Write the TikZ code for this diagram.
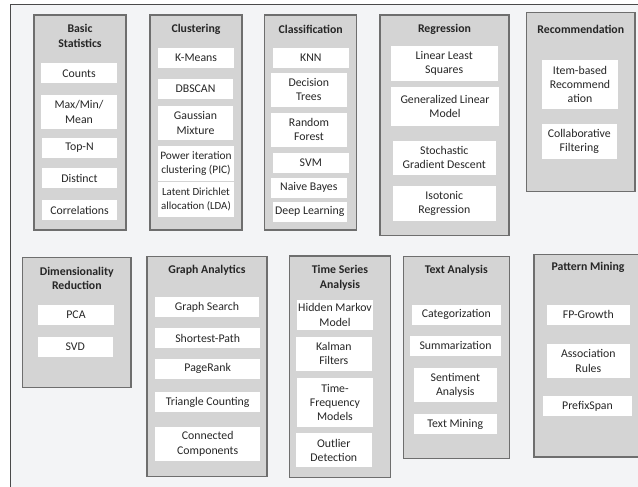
\documentclass[tikz,border=0pt]{standalone}
\usepackage{fontspec}
\setmainfont{Carlito}
\definecolor{catline}{HTML}{6E6E6E}
\definecolor{catfill}{HTML}{D4D4D4}
\definecolor{framecol}{HTML}{4A4A4A}
\definecolor{bgcol}{HTML}{F3F4F6}
\definecolor{txt}{HTML}{262626}
\begin{document}
\begin{tikzpicture}[x=1pt,y=-1pt,
  catbox/.style={draw=catline, fill=catfill, line width=1.4pt, inner sep=0pt},
  itembox/.style={fill=white, inner sep=0pt, align=center, text=txt,
    font=\fontsize{11.8}{14.2}\selectfont},
  cattitle/.style={align=center, text=txt, inner sep=0pt,
    font=\bfseries\fontsize{11.8}{14.6}\selectfont},
  frame/.style={draw=framecol, fill=bgcol, line width=1.2pt}]
\useasboundingbox (0,0) rectangle (638,487);
\clip (0,0) rectangle (638,487);
\fill[white] (0,0) rectangle (638,487);
\draw[frame] (10.5,4.5) rectangle (700,560);

% ---------- Basic Statistics ----------
\node[catbox, minimum width=92pt, minimum height=215pt] (bs) at (80,122.5) {};
\node[cattitle] (bst) at (80,36) {Basic\\Statistics};
\node[itembox, minimum width=76pt, minimum height=20pt] (bs1) at (79,73.5) {Counts};
\node[itembox, minimum width=76pt, minimum height=34pt] (bs2) at (79,112) {Max/Min/\\Mean};
\node[itembox, minimum width=75pt, minimum height=20pt] (bs3) at (79.5,148) {Top-N};
\node[itembox, minimum width=75pt, minimum height=20pt] (bs4) at (79.5,178) {Distinct};
\node[itembox, minimum width=75pt, minimum height=20pt] (bs5) at (79.5,210) {Correlations};

% ---------- Clustering ----------
\node[catbox, minimum width=92pt, minimum height=215pt] (cl) at (196,122.5) {};
\node[cattitle] (clt) at (196,29) {Clustering};
\node[itembox, minimum width=76pt, minimum height=20pt] (cl1) at (196,58) {K-Means};
\node[itembox, minimum width=75pt, minimum height=20pt] (cl2) at (195.5,89) {DBSCAN};
\node[itembox, minimum width=75pt, minimum height=34pt] (cl3) at (195.5,123) {Gaussian\\Mixture};
\node[itembox, minimum width=76pt, minimum height=35pt,
  font=\fontsize{11.4}{14}\selectfont] (cl4) at (196,163.5) {Power iteration\\clustering (PIC)};
\node[itembox, minimum width=76pt, minimum height=35pt,
  font=\fontsize{10.9}{13.6}\selectfont] (cl5) at (196,199.5) {Latent Dirichlet\\allocation (LDA)};

% ---------- Classification ----------
\node[catbox, minimum width=92pt, minimum height=215pt] (cf) at (310.7,122.5) {};
\node[cattitle] (cft) at (310.7,29) {Classification};
\node[itembox, minimum width=76pt, minimum height=20pt] (cf1) at (310.8,58) {KNN};
\node[itembox, minimum width=75.7pt, minimum height=34.3pt] (cf2) at (308.8,89.8) {Decision\\Trees};
\node[itembox, minimum width=76pt, minimum height=34.3pt] (cf3) at (309,129.8) {Random\\Forest};
\node[itembox, minimum width=76pt, minimum height=20pt] (cf4) at (310.8,163) {SVM};
\node[itembox, minimum width=75.7pt, minimum height=20pt] (cf5) at (308.8,187.7) {Naive Bayes};
\node[itembox, minimum width=73.7pt, minimum height=20pt] (cf6) at (309.8,211.7) {Deep Learning};

% ---------- Regression ----------
\node[catbox, minimum width=129pt, minimum height=220.7pt] (rg) at (444.5,125.3) {};
\node[cattitle] (rgt) at (444.5,29) {Regression};
\node[itembox, minimum width=107pt, minimum height=34.7pt] (rg1) at (444.2,63.3) {Linear Least\\Squares};
\node[itembox, minimum width=108.6pt, minimum height=38.7pt] (rg2) at (445,106.7) {Generalized Linear\\Model};
\node[itembox, minimum width=103.3pt, minimum height=34.3pt] (rg3) at (444.3,157.8) {Stochastic\\Gradient Descent};
\node[itembox, minimum width=103.3pt, minimum height=34.7pt] (rg4) at (444.3,203.3) {Isotonic\\Regression};

% ---------- Recommendation ----------
\node[catbox, minimum width=108.3pt, minimum height=179pt] (rc) at (580.8,102.2) {};
\node[cattitle] (rct) at (580.8,29) {Recommendation};
\node[itembox, minimum width=75.4pt, minimum height=49.3pt] (rc1) at (580,84.7) {Item-based\\Recommend\\ation};
\node[itembox, minimum width=75.3pt, minimum height=34.7pt] (rc2) at (579.3,141.7) {Collaborative\\Filtering};

% ---------- Dimensionality Reduction ----------
\node[catbox, minimum width=108.3pt, minimum height=130.4pt] (dr) at (76.8,322.5) {};
\node[cattitle] (drt) at (76.8,278.3) {Dimensionality\\Reduction};
\node[itembox, minimum width=75.4pt, minimum height=20pt] (dr1) at (76,315) {PCA};
\node[itembox, minimum width=75.3pt, minimum height=20.3pt] (dr2) at (75.3,346.8) {SVD};

% ---------- Graph Analytics ----------
\node[catbox, minimum width=120pt, minimum height=220.4pt] (ga) at (207,366.5) {};
\node[cattitle] (gat) at (207,270.7) {Graph Analytics};
\node[itembox, minimum width=103.4pt, minimum height=20pt] (ga1) at (207,307.3) {Graph Search};
\node[itembox, minimum width=104.7pt, minimum height=20pt] (ga2) at (207.7,338) {Shortest-Path};
\node[itembox, minimum width=104.7pt, minimum height=19.7pt] (ga3) at (207.7,368.8) {PageRank};
\node[itembox, minimum width=104.7pt, minimum height=20pt] (ga4) at (207.7,402) {Triangle Counting};
\node[itembox, minimum width=104.7pt, minimum height=34.3pt] (ga5) at (207.7,443.8) {Connected\\Components};

% ---------- Time Series Analysis ----------
\node[catbox, minimum width=101.4pt, minimum height=221.3pt] (ts) at (340,366.7) {};
\node[cattitle] (tst) at (340,277.7) {Time Series\\Analysis};
\node[itembox, minimum width=75.4pt, minimum height=30pt] (ts1) at (335,315) {Hidden Markov\\Model};
\node[itembox, minimum width=75.7pt, minimum height=34pt] (ts2) at (333.8,353.7) {Kalman\\Filters};
\node[itembox, minimum width=75.4pt, minimum height=48.7pt] (ts3) at (335,402.3) {Time-\\Frequency\\Models};
\node[itembox, minimum width=75.7pt, minimum height=34pt] (ts4) at (333.8,450.3) {Outlier\\Detection};

% ---------- Text Analysis ----------
\node[catbox, minimum width=106pt, minimum height=202pt] (ta) at (456.3,357.7) {};
\node[cattitle] (tat) at (456.3,270.7) {Text Analysis};
\node[itembox, minimum width=89.3pt, minimum height=20pt] (ta1) at (456.3,314.7) {Categorization};
\node[itembox, minimum width=91pt, minimum height=19.7pt] (ta2) at (455.5,345.8) {Summarization};
\node[itembox, minimum width=82.7pt, minimum height=34pt] (ta3) at (455.3,385) {Sentiment\\Analysis};
\node[itembox, minimum width=82.7pt, minimum height=20pt] (ta4) at (455.3,424) {Text Mining};

% ---------- Pattern Mining ----------
\node[catbox, minimum width=110pt, minimum height=202.7pt] (pm) at (589,355.6) {};
\node[cattitle] (pmt) at (588,267.7) {Pattern Mining};
\node[itembox, minimum width=83.3pt, minimum height=20pt] (pm1) at (588.3,314.7) {FP-Growth};
\node[itembox, minimum width=83.3pt, minimum height=34pt] (pm2) at (588.3,361) {Association\\Rules};
\node[itembox, minimum width=89.6pt, minimum height=20pt] (pm3) at (587.5,406) {PrefixSpan};
\end{tikzpicture}
\end{document}
